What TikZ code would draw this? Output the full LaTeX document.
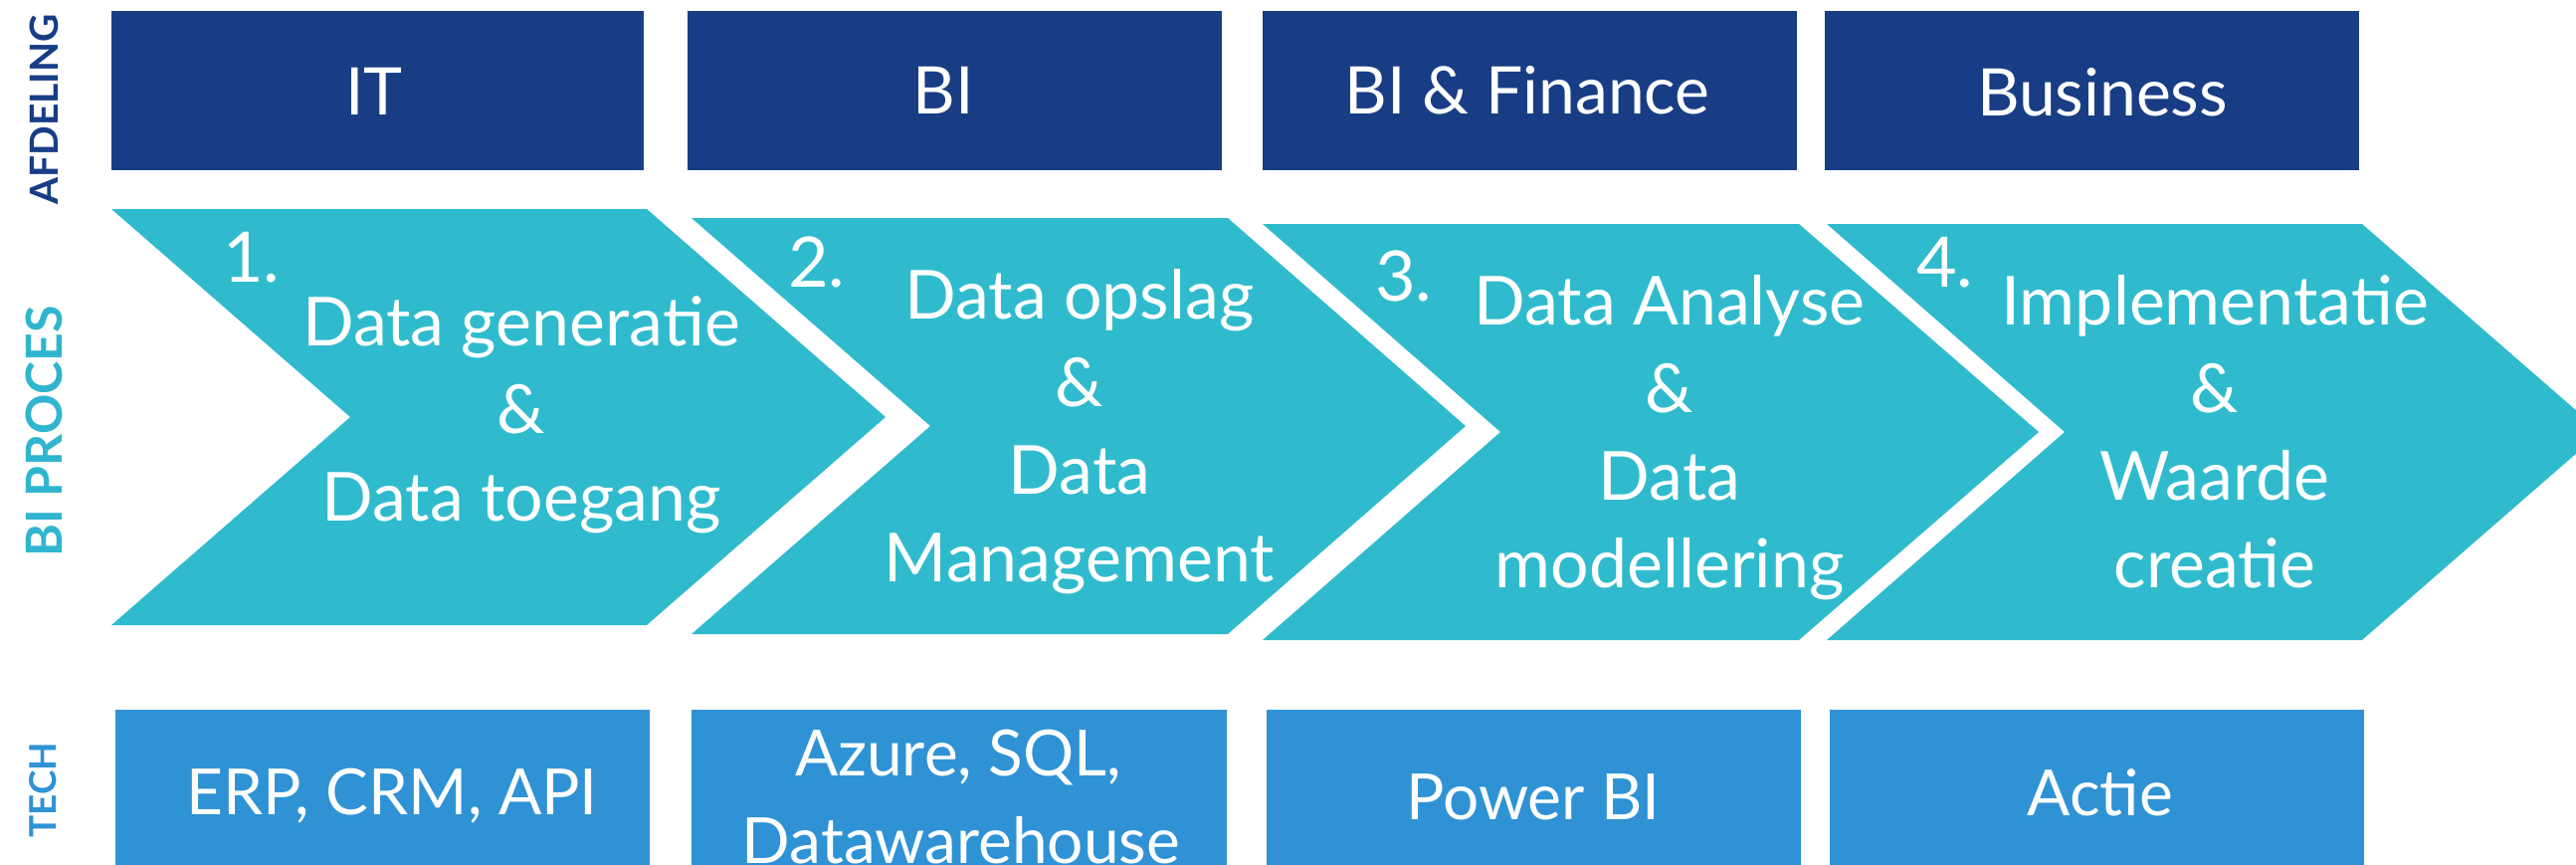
\documentclass[tikz,border=0pt]{standalone}
\usepackage{fontspec}
\setmainfont{Lato}
\definecolor{dblue}{HTML}{183D85}
\definecolor{tealc}{HTML}{2FBBCD}
\definecolor{techblue}{HTML}{2E92D5}
\definecolor{proclabel}{HTML}{2FB5CF}
\tikzset{
  panel/.style={fill=#1, draw=none, inner sep=0pt, anchor=north west},
  boxtext/.style={text=white, inner sep=0pt, anchor=base, font=\fontsize{66}{88}\selectfont},
  techtext/.style={text=white, inner sep=0pt, anchor=base, font=\fontsize{64}{88}\selectfont},
  chev/.style={fill=tealc, draw=none},
  chevtext/.style={text=white, inner sep=0pt, anchor=north, align=center, font=\fontsize{68}{88}\selectfont},
  numtext/.style={text=white, inner sep=0pt, anchor=base west, font=\fontsize{70}{88}\selectfont},
  sidelabel/.style={rotate=90, inner sep=0pt, anchor=center, text=#1}
}
\begin{document}
\begin{tikzpicture}[x=1pt, y=-1pt]
\useasboundingbox (0,0) rectangle (2589,868);
\begin{scope}
\clip (0,0) rectangle (2589,868);

% side labels
\node[sidelabel=dblue, font=\fontsize{39}{44}\selectfont\bfseries] (lab1) at (44,110) {AFDELING};
\node[sidelabel=proclabel, font=\fontsize{50}{56}\selectfont\bfseries] (lab2) at (44.5,433.5) {BI PROCES};
\node[sidelabel=techblue, font=\fontsize{37}{42}\selectfont\bfseries] (lab3) at (43.5,793.5) {TECH};

% department boxes
\node[panel=dblue, minimum width=535pt, minimum height=160pt] (d1) at (112,11) {};
\node[panel=dblue, minimum width=537pt, minimum height=160pt] (d2) at (691,11) {};
\node[panel=dblue, minimum width=537pt, minimum height=160pt] (d3) at (1269,11) {};
\node[panel=dblue, minimum width=537pt, minimum height=160pt] (d4) at (1834,11) {};
\node[boxtext] (d1t) at (376,115) {IT};
\node[boxtext] (d2t) at (948,114) {BI};
\node[boxtext] (d3t) at (1535,114) {BI \& Finance};
\node[boxtext] (d4t) at (2113,116) {Business};

% chevrons
\fill[chev] (112,210) -- (650,210) -- (890,419) -- (650,628) -- (112,628) -- (352,419) -- cycle;
\fill[chev] (695,219) -- (1234,219) -- (1473,428) -- (1234,637) -- (695,637) -- (935,428) -- cycle;
\fill[chev] (1269,225) -- (1808,225) -- (2049,434) -- (1808,643) -- (1269,643) -- (1508,434) -- cycle;
\fill[chev] (1836,225) -- (2374,225) -- (2614,434) -- (2374,643) -- (1836,643) -- (2075,434) -- cycle;

\node[numtext] (n1) at (224,283) {1.};
\node[numtext] (n2) at (792,288) {2.};
\node[numtext] (n3) at (1382,302) {3.};
\node[numtext] (n4) at (1926,288) {4.};

\node[chevtext] (c1) at (524,285.4) {\strut Data generatie\\\strut \&\\\strut Data toegang};
\node[chevtext] (c2) at (1085,258.4) {\strut Data opslag\\\strut \&\\\strut Data\\\strut Management};
\node[chevtext] (c3) at (1678,264.4) {\strut Data Analyse\\\strut \&\\\strut Data\\\strut modellering};
\node[chevtext] (c4) at (2226,264.4) {\strut Implementatie\\\strut \&\\\strut Waarde\\\strut creatie};

% tech boxes
\node[panel=techblue, minimum width=537pt, minimum height=190pt] (t1) at (116,713) {};
\node[panel=techblue, minimum width=538pt, minimum height=190pt] (t2) at (695,713) {};
\node[panel=techblue, minimum width=537pt, minimum height=190pt] (t3) at (1273,713) {};
\node[panel=techblue, minimum width=537pt, minimum height=190pt] (t4) at (1839,713) {};
\node[techtext] (t1t) at (394,818) {ERP, CRM, API};
\node[techtext] (t2a) at (963,779) {Azure, SQL,};
\node[techtext] (t2b) at (966,867) {Datawarehouse};
\node[techtext] (t3t) at (1541,823) {Power BI};
\node[techtext] (t4t) at (2111,819) {Actie};
\end{scope}
\end{tikzpicture}
\end{document}
